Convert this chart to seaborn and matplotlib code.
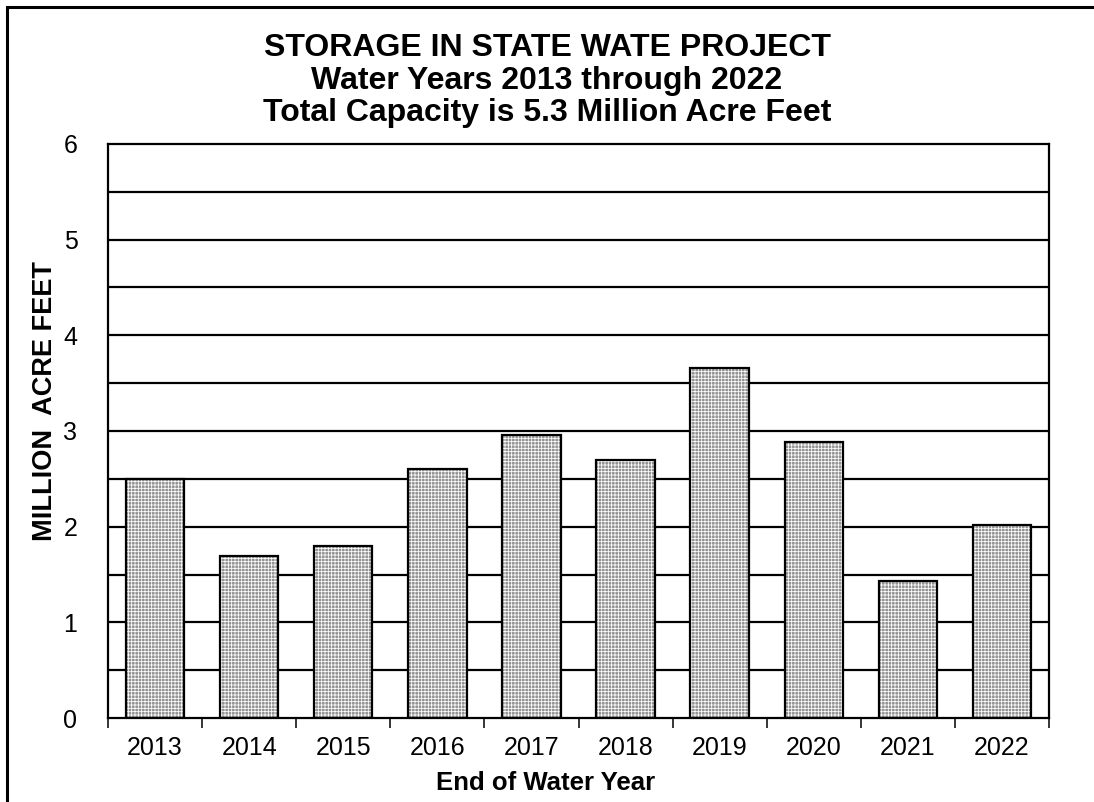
import matplotlib
matplotlib.use("Agg")
import matplotlib.pyplot as plt
from matplotlib.patches import Rectangle
import seaborn as sns
import pandas as pd

years = ["2013", "2014", "2015", "2016", "2017", "2018", "2019", "2020", "2021", "2022"]
storage_maf = [2.50, 1.69, 1.80, 2.60, 2.96, 2.70, 3.66, 2.88, 1.43, 2.02]
y_ticks = [0, 1, 2, 3, 4, 5, 6]
title_lines = ["STORAGE IN STATE WATE PROJECT",
               "Water Years 2013 through 2022",
               "Total Capacity is 5.3 Million Acre Feet"]
x_title = "End of Water Year"
y_title = "MILLION  ACRE FEET"

sns.set_theme(style="white")
plt.rcParams["font.family"] = ["Liberation Sans", "DejaVu Sans"]
plt.rcParams.update({
    "text.color": "black",
    "axes.labelcolor": "black",
    "xtick.color": "black",
    "ytick.color": "black",
    "hatch.linewidth": 0.55,
})

W, H = 1094, 802
df = pd.DataFrame({"year": years, "storage": storage_maf})

fig = plt.figure(figsize=(W / 100, H / 100), dpi=100)
ax = fig.add_axes([108 / W, 1 - 718 / H, 941 / W, 574 / H])

# Horizontal rules every half unit, beneath the bars
for v in [i * 0.5 for i in range(1, 12)]:
    ax.axhline(v, color="black", lw=1.6, zorder=0)

# Grey bars with a fine white lattice (hatch takes the edge colour)
sns.barplot(data=df, x="year", y="storage", ax=ax, color="#929292",
            width=0.62, edgecolor="white", linewidth=0, saturation=1,
            hatch="+" * 5, zorder=2)

# Black outline around each bar, following the bar's own geometry
for p in list(ax.patches):
    ax.add_patch(Rectangle(p.get_xy(), p.get_width(), p.get_height(),
                           fill=False, edgecolor="black", lw=1.6, zorder=3))

ax.set_ylim(0, 6)
ax.set_xlim(-0.5, len(years) - 0.5)
ax.set_yticks(y_ticks)
ax.set_yticklabels([str(t) for t in y_ticks], fontsize=18)
ax.tick_params(axis="y", length=0, pad=22)

# x ticks on the boundaries between categories, labels centred on the bars
ax.set_xticks([i - 0.5 for i in range(len(years) + 1)])
ax.set_xticklabels([""] * (len(years) + 1))
ax.set_xticks(range(len(years)), minor=True)
ax.set_xticklabels(years, minor=True, fontsize=18)
ax.tick_params(axis="x", which="major", length=7, width=1.1,
               direction="out", bottom=True)
ax.tick_params(axis="x", which="minor", length=0, pad=13)

for s in ax.spines.values():
    s.set_visible(True)
    s.set_color("black")
    s.set_linewidth(1.6)
    s.set_zorder(4)

ax.set_xlabel("")
ax.set_ylabel("")

fig.text(546 / W, 1 - 790 / H, x_title, ha="center", va="baseline",
         fontsize=18.5, fontweight="bold")
fig.text(52 / W, 1 - 401 / H, y_title, rotation=90, rotation_mode="anchor",
         ha="center", va="baseline", fontsize=19.5, fontweight="bold")

for line, base in zip(title_lines, [56, 89, 121]):
    fig.text(547 / W, 1 - base / H, line, ha="center", va="baseline",
             fontsize=23, fontweight="bold")

# Outer frame (its left and top edges fall on the canvas)
fig.add_artist(Rectangle((7 / W, -0.1), 1.2, 1.1 - 7 / H,
                         transform=fig.transFigure, fill=False,
                         edgecolor="black", lw=2.2))

fig.savefig("out.png", dpi=100)
